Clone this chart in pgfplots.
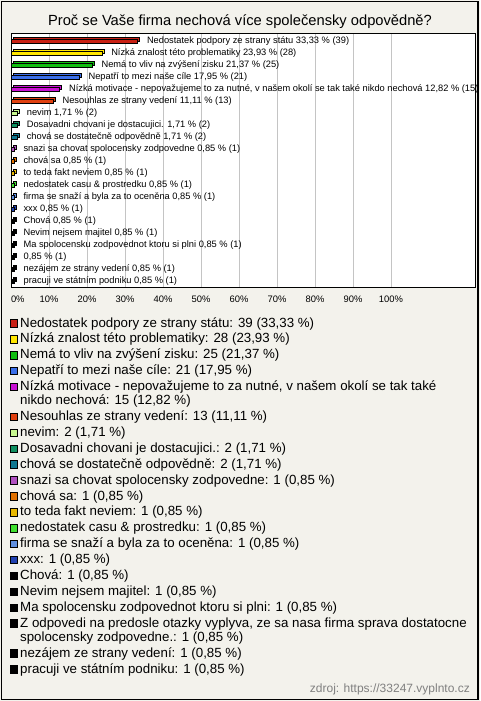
\documentclass[border=0pt]{standalone}
\usepackage{fontspec}
\setmainfont{Liberation Sans}
\usepackage{pgfplots}
\pgfplotsset{compat=1.18}
\definecolor{bg}{RGB}{243,242,236}
\definecolor{c1}{RGB}{200,32,20}
\definecolor{c2}{RGB}{255,230,0}
\definecolor{c3}{RGB}{16,190,16}
\definecolor{c4}{RGB}{58,110,232}
\definecolor{c5}{RGB}{200,16,210}
\definecolor{c6}{RGB}{224,64,16}
\definecolor{c7}{RGB}{200,248,144}
\definecolor{c8}{RGB}{16,144,96}
\definecolor{c9}{RGB}{16,120,144}
\definecolor{c10}{RGB}{176,80,192}
\definecolor{c11}{RGB}{224,112,0}
\definecolor{c12}{RGB}{232,184,0}
\definecolor{c13}{RGB}{64,224,48}
\definecolor{c14}{RGB}{96,144,224}
\definecolor{c15}{RGB}{32,64,176}
\definecolor{c16}{RGB}{0,0,0}
\newcommand{\barfont}{\fontsize{9.3}{11}\selectfont}
\newcommand{\legfont}{\fontsize{13.3}{15}\selectfont}
\newcommand{\mybar}[4]{%
  \addplot[forget plot, fill=#1, draw=black, line width=0.7pt, xshift=2pt, yshift=2pt] coordinates {(#2,#3)};
  \addplot[fill=#1, draw=black, line width=0.7pt, nodes near coords={#4}] coordinates {(#2,#3)};
}
\newcommand{\legitem}[3]{%
  \draw[black, line width=0.6pt, fill=#1] (10pt,-#2pt) rectangle ++(7.5pt,7.5pt);
  \node[anchor=base west, inner sep=0, font=\legfont] at (20pt,-#2pt) {#3};
}
\newcommand{\legline}[2]{%
  \node[anchor=base west, inner sep=0, font=\legfont] at (20pt,-#1pt) {#2};
}
\begin{document}
\begin{tikzpicture}
\fill[bg] (0,0) rectangle (480pt,-701pt);
\useasboundingbox (0,0) rectangle (480pt,-701pt);
\draw[line width=1.3pt] (1.2pt,-1.2pt) rectangle (478pt,-699.8pt);
\node[anchor=base, inner sep=0, font=\fontsize{14.7}{17}\selectfont] at (240pt,-26pt)
  {Proč se Vaše firma nechová více společensky odpovědně?};
\begin{axis}[
  at={(11pt,-33pt)}, anchor=north west,
  scale only axis, width=464.5pt, height=254.5pt,
  xbar, bar width=4pt,
  every axis plot post/.append style={/pgf/bar shift=0pt},
  xmin=0, xmax=122.24,
  ymin=-0.708, ymax=20.5, y dir=reverse,
  ytick=\empty,
  xtick={0,10,...,100},
  xticklabels={\makebox[0pt][l]{0\%},10\%,20\%,30\%,40\%,50\%,60\%,70\%,80\%,90\%,100\%},
  xticklabel style={font=\fontsize{9.4}{11}\selectfont, yshift=-4.5pt},
  major tick length=0pt,
  xmajorgrids, grid style={draw={rgb,255:red,196;green,196;blue,196}, line width=0.8pt},
  axis line style={line width=0.8pt},
  axis background/.style={fill=white},
  clip=false,
  nodes near coords align=horizontal,
  every node near coord/.append style={anchor=west, inner sep=0pt, xshift=9pt, font=\barfont, text=black},
]
\mybar{c1}{33.33}{0}{Nedostatek podpory ze strany státu 33,33 \% (39)}
\mybar{c2}{23.93}{1}{Nízká znalost této problematiky 23,93 \% (28)}
\mybar{c3}{21.37}{2}{Nemá to vliv na zvýšení zisku 21,37 \% (25)}
\mybar{c4}{17.95}{3}{Nepatří to mezi naše cíle 17,95 \% (21)}
\mybar{c5}{12.82}{4}{Nízká motivace - nepovažujeme to za nutné, v našem okolí se tak také nikdo nechová 12,82 \% (15)}
\mybar{c6}{11.11}{5}{Nesouhlas ze strany vedení 11,11 \% (13)}
\mybar{c7}{1.71}{6}{nevim 1,71 \% (2)}
\mybar{c8}{1.71}{7}{Dosavadni chovani je dostacujici. 1,71 \% (2)}
\mybar{c9}{1.71}{8}{chová se dostatečně odpovědně 1,71 \% (2)}
\mybar{c10}{0.85}{9}{snazi sa chovat spolocensky zodpovedne 0,85 \% (1)}
\mybar{c11}{0.85}{10}{chová sa 0,85 \% (1)}
\mybar{c12}{0.85}{11}{to teda fakt neviem 0,85 \% (1)}
\mybar{c13}{0.85}{12}{nedostatek casu \& prostredku 0,85 \% (1)}
\mybar{c14}{0.85}{13}{firma se snaží a byla za to oceněna 0,85 \% (1)}
\mybar{c15}{0.85}{14}{xxx 0,85 \% (1)}
\mybar{c16}{0.85}{15}{Chová 0,85 \% (1)}
\mybar{c16}{0.85}{16}{Nevim nejsem majitel 0,85 \% (1)}
\mybar{c16}{0.85}{17}{Ma spolocensku zodpovednot ktoru si plni 0,85 \% (1)}
\mybar{c16}{0.85}{18}{0,85 \% (1)}
\mybar{c16}{0.85}{19}{nezájem ze strany vedení 0,85 \% (1)}
\mybar{c16}{0.85}{20}{pracuji ve státním podniku 0,85 \% (1)}
\end{axis}
\legitem{c1}{327}{Nedostatek podpory ze strany státu: 39 (33,33 \%)}
\legitem{c2}{342.9}{Nízká znalost této problematiky: 28 (23,93 \%)}
\legitem{c3}{358.8}{Nemá to vliv na zvýšení zisku: 25 (21,37 \%)}
\legitem{c4}{374.7}{Nepatří to mezi naše cíle: 21 (17,95 \%)}
\legitem{c5}{390.6}{Nízká motivace - nepovažujeme to za nutné, v našem okolí se tak také}
\legline{404.6}{nikdo nechová: 15 (12,82 \%)}
\legitem{c6}{420.5}{Nesouhlas ze strany vedení: 13 (11,11 \%)}
\legitem{c7}{436.4}{nevim: 2 (1,71 \%)}
\legitem{c8}{452.3}{Dosavadni chovani je dostacujici.: 2 (1,71 \%)}
\legitem{c9}{468.2}{chová se dostatečně odpovědně: 2 (1,71 \%)}
\legitem{c10}{484.1}{snazi sa chovat spolocensky zodpovedne: 1 (0,85 \%)}
\legitem{c11}{500.0}{chová sa: 1 (0,85 \%)}
\legitem{c12}{515.9}{to teda fakt neviem: 1 (0,85 \%)}
\legitem{c13}{531.8}{nedostatek casu \& prostredku: 1 (0,85 \%)}
\legitem{c14}{547.7}{firma se snaží a byla za to oceněna: 1 (0,85 \%)}
\legitem{c15}{563.6}{xxx: 1 (0,85 \%)}
\legitem{c16}{579.5}{Chová: 1 (0,85 \%)}
\legitem{c16}{595.4}{Nevim nejsem majitel: 1 (0,85 \%)}
\legitem{c16}{611.3}{Ma spolocensku zodpovednot ktoru si plni: 1 (0,85 \%)}
\legitem{c16}{627.2}{Z odpovedi na predosle otazky vyplyva, ze sa nasa firma sprava dostatocne}
\legline{641.2}{spolocensky zodpovedne.: 1 (0,85 \%)}
\legitem{c16}{657.1}{nezájem ze strany vedení: 1 (0,85 \%)}
\legitem{c16}{673.0}{pracuji ve státním podniku: 1 (0,85 \%)}
\node[anchor=base east, inner sep=0, font=\fontsize{12}{14}\selectfont, text={rgb,255:red,128;green,128;blue,128}] at (470pt,-692.3pt) {zdroj: https://33247.vyplnto.cz};
\end{tikzpicture}
\end{document}
